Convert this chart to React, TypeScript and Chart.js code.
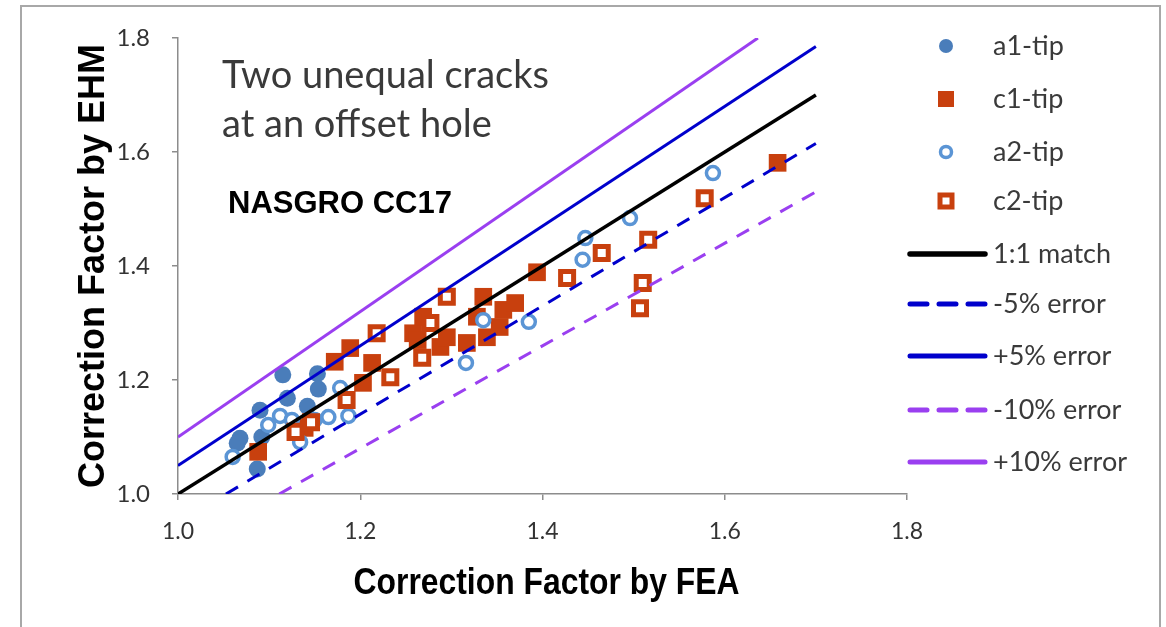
import React, { useEffect, useRef } from "react";
import { Chart, registerables } from "chart.js";

Chart.register(...registerables);

// Correction factors: [FEA, EHM] pairs for each crack tip
const a1Tip: [number, number][] = [
  [1.068, 1.098], [1.065, 1.089], [1.115, 1.209], [1.090, 1.147], [1.087, 1.044],
  [1.153, 1.211], [1.154, 1.184], [1.142, 1.154], [1.120, 1.168], [1.092, 1.100],
];

const c1Tip: [number, number][] = [
  [1.088, 1.074], [1.172, 1.232], [1.189, 1.256], [1.213, 1.230], [1.203, 1.195],
  [1.139, 1.116], [1.258, 1.282], [1.269, 1.311], [1.263, 1.270], [1.288, 1.258],
  [1.295, 1.275], [1.317, 1.265], [1.328, 1.311], [1.335, 1.346], [1.339, 1.275],
  [1.357, 1.323], [1.370, 1.335], [1.394, 1.389], [1.353, 1.293], [1.658, 1.581],
];

const a2Tip: [number, number][] = [
  [1.060, 1.065], [1.099, 1.121], [1.112, 1.137], [1.125, 1.130], [1.134, 1.091],
  [1.150, 1.130], [1.165, 1.135], [1.178, 1.186], [1.187, 1.137], [1.316, 1.230],
  [1.335, 1.305], [1.385, 1.302], [1.444, 1.411], [1.447, 1.449], [1.496, 1.484],
  [1.587, 1.563],
];

const c2Tip: [number, number][] = [
  [1.218, 1.282], [1.233, 1.205], [1.185, 1.165], [1.268, 1.239], [1.295, 1.346],
  [1.129, 1.109], [1.277, 1.300], [1.146, 1.126], [1.427, 1.379], [1.465, 1.423],
  [1.516, 1.446], [1.578, 1.519], [1.510, 1.370], [1.507, 1.326],
];

// Reference lines (end points, clipped to the 1.0–1.8 frame)
const matchLine: [number, number][] = [[1.0, 1.0], [1.7, 1.7]];
const minus5Line: [number, number][] = [[1.0526, 1.0], [1.7, 1.615]];
const plus5Line: [number, number][] = [[1.0, 1.05], [1.7, 1.785]];
const minus10Line: [number, number][] = [[1.1111, 1.0], [1.7, 1.53]];
const plus10Line: [number, number][] = [[1.0, 1.1], [1.6364, 1.8]];

const xTickLabels = ["1.0", "1.2", "1.4", "1.6", "1.8"];
const yTickLabels = ["1.0", "1.2", "1.4", "1.6", "1.8"];

const seriesNames = ["a1-tip", "c1-tip", "a2-tip", "c2-tip", "1:1 match", "-5% error", "+5% error", "-10% error", "+10% error"];

const BLUE_FILL = "#4a7dba";
const BLUE_RING = "#5b95d5";
const RED = "#c8400e";
const LINE_BLUE = "#0000cc";
const PURPLE = "#9a3ff0";
const TEXT = "#3a3a3a";
const DASH = [14, 11];

const toXY = (pts: [number, number][]) => pts.map(([x, y]) => ({ x, y }));

const overlay = {
  id: "overlay",
  beforeDraw(chart: any) {
    const ctx = chart.ctx;
    ctx.save();
    ctx.fillStyle = "#ffffff";
    ctx.fillRect(0, 0, chart.width, chart.height);
    ctx.strokeStyle = "#a8a8a8";
    ctx.lineWidth = 2;
    ctx.strokeRect(21, 6, 1139, 700);
    ctx.restore();
  },
  afterDraw(chart: any) {
    const ctx = chart.ctx;
    const area = chart.chartArea;
    ctx.save();

    // annotation
    ctx.fillStyle = TEXT;
    ctx.font = "38px Lato";
    ctx.textAlign = "left";
    ctx.textBaseline = "alphabetic";
    ctx.fillText("Two unequal cracks", 222, 88);
    ctx.fillText("at an offset hole", 222, 137);

    ctx.fillStyle = "#000";
    ctx.font = "bold 31px 'Liberation Sans'";
    ctx.fillText("NASGRO CC17", 228, 213);

    // axis titles
    ctx.font = "bold 36px 'Liberation Sans'";
    ctx.textAlign = "center";
    ctx.textBaseline = "middle";
    ctx.save();
    ctx.translate((area.left + area.right) / 2 + 4, 584);
    ctx.scale(0.885, 1);
    ctx.fillText("Correction Factor by FEA", 0, 0);
    ctx.restore();
    ctx.save();
    ctx.translate(94, (area.top + area.bottom) / 2);
    ctx.rotate(-Math.PI / 2);
    ctx.fillText("Correction Factor by EHM", 0, 0);
    ctx.restore();

    // legend
    const rowY = [46, 99, 152, 201, 254, 304, 356, 410, 462];
    chart.data.datasets.forEach((ds: any, i: number) => {
      const y = rowY[i];
      if (ds.type === "line") {
        ctx.save();
        ctx.strokeStyle = ds.borderColor;
        ctx.lineWidth = ds.borderWidth + 2;
        ctx.setLineDash(ds.borderDash && ds.borderDash.length ? [17, 12] : []);
        ctx.lineCap = "round";
        ctx.beginPath();
        ctx.moveTo(910, y);
        ctx.lineTo(985, y);
        ctx.stroke();
        ctx.restore();
      } else {
        const cx = 946;
        ctx.save();
        ctx.fillStyle = ds.pointBackgroundColor;
        ctx.strokeStyle = ds.pointBorderColor;
        ctx.lineWidth = ds.pointBorderWidth;
        if (ds.pointStyle === "circle") {
          const r = ds.legendR;
          ctx.beginPath();
          ctx.arc(cx, y, r, 0, Math.PI * 2);
          ctx.fill();
          if (ds.pointBorderWidth) ctx.stroke();
        } else {
          const h = ds.legendR;
          ctx.fillRect(cx - h, y - h, 2 * h, 2 * h);
          if (ds.pointBorderWidth) ctx.strokeRect(cx - h, y - h, 2 * h, 2 * h);
        }
        ctx.restore();
      }
      ctx.fillStyle = TEXT;
      ctx.font = "27px Lato";
      ctx.textAlign = "left";
      ctx.textBaseline = "middle";
      ctx.fillText(ds.label, 993, y);
    });
    ctx.restore();
  },
};

export default function App() {
  const ref = useRef<HTMLCanvasElement | null>(null);

  useEffect(() => {
    if (!ref.current) return;
    const scatter = (label: string, pts: [number, number][], opts: any) => ({
      type: "scatter",
      label,
      data: toXY(pts),
      showLine: false,
      ...opts,
    });
    const line = (label: string, pts: [number, number][], color: string, width: number, dash: number[] = []) => ({
      type: "line",
      label,
      data: toXY(pts),
      borderColor: color,
      borderWidth: width,
      borderDash: dash,
      pointRadius: 0,
      fill: false,
      tension: 0,
      order: 1,
    });

    const chart = new Chart(ref.current, {
      type: "scatter",
      data: {
        datasets: [
          scatter(seriesNames[0], a1Tip, {
            pointStyle: "circle", pointRadius: 8.5, pointBackgroundColor: BLUE_FILL,
            pointBorderColor: BLUE_FILL, pointBorderWidth: 0, legendR: 7, order: 5,
          }),
          scatter(seriesNames[1], c1Tip, {
            pointStyle: "rect", pointRadius: 12.5, pointBackgroundColor: RED,
            pointBorderColor: RED, pointBorderWidth: 0, legendR: 8, order: 4,
          }),
          scatter(seriesNames[2], a2Tip, {
            pointStyle: "circle", pointRadius: 6.5, pointBackgroundColor: "#ffffff",
            pointBorderColor: BLUE_RING, pointBorderWidth: 3.5, legendR: 5.5, order: 3,
          }),
          scatter(seriesNames[3], c2Tip, {
            pointStyle: "rect", pointRadius: 9.2, pointBackgroundColor: "#ffffff",
            pointBorderColor: RED, pointBorderWidth: 5, legendR: 6, order: 2,
          }),
          line(seriesNames[4], matchLine, "#000000", 3.5),
          line(seriesNames[5], minus5Line, LINE_BLUE, 3, DASH),
          line(seriesNames[6], plus5Line, LINE_BLUE, 3),
          line(seriesNames[7], minus10Line, PURPLE, 3, DASH),
          line(seriesNames[8], plus10Line, PURPLE, 3),
        ] as any,
      },
      options: {
        animation: false,
        responsive: false,
        devicePixelRatio: 1,
        layout: { padding: { left: 0, top: 38, right: 259, bottom: 0 } },
        plugins: { legend: { display: false }, tooltip: { enabled: false } },
        scales: {
          x: {
            type: "linear",
            min: 1.0,
            max: 1.8,
            afterFit: (s: any) => { s.height = 133; },
            grid: { drawOnChartArea: false, drawTicks: true, tickLength: 6, color: "#8c8c8c", lineWidth: 1.5 },
            border: { color: "#8c8c8c", width: 1.5 },
            ticks: {
              stepSize: 0.2,
              padding: 18,
              color: "#333333",
              font: { family: "Lato", size: 23 },
              callback: (_v: any, i: number) => xTickLabels[i],
            },
          },
          y: {
            type: "linear",
            min: 1.0,
            max: 1.8,
            afterFit: (s: any) => { s.width = 178; },
            grid: { drawOnChartArea: false, drawTicks: true, tickLength: 6, color: "#8c8c8c", lineWidth: 1.5 },
            border: { color: "#8c8c8c", width: 1.5 },
            ticks: {
              stepSize: 0.2,
              padding: 22,
              color: "#333333",
              font: { family: "Lato", size: 24 },
              callback: (_v: any, i: number) => yTickLabels[i],
            },
          },
        },
      } as any,
      plugins: [overlay],
    });
    return () => chart.destroy();
  }, []);

  return (
    <div style={{ position: "fixed", left: 0, top: 0, width: 1166, height: 627, background: "#fff" }}>
      <canvas ref={ref} width={1166} height={627} style={{ width: 1166, height: 627, display: "block" }} />
    </div>
  );
}
